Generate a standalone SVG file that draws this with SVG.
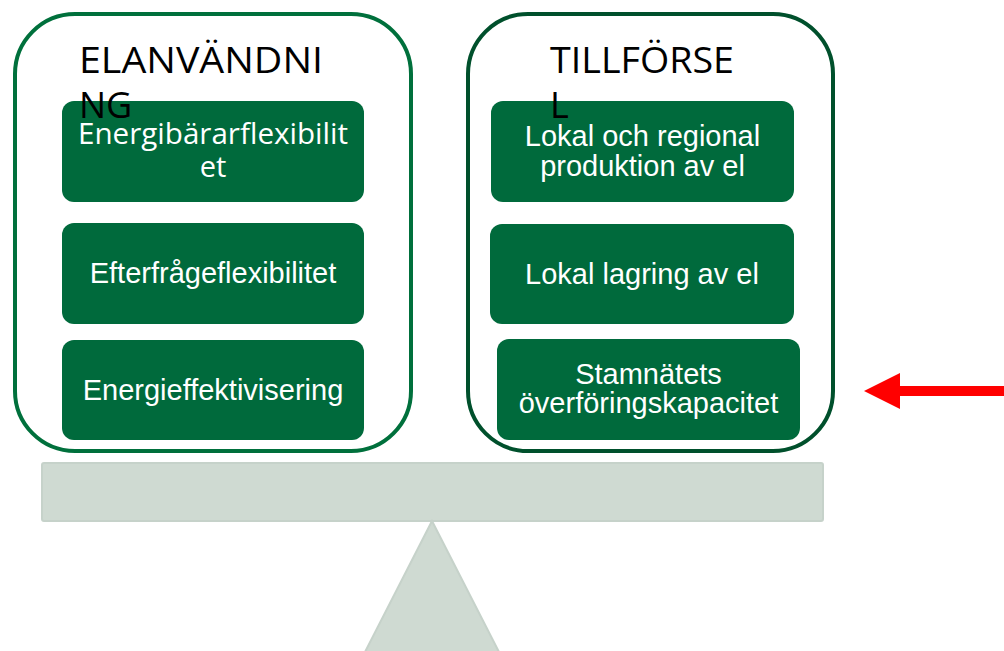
<svg xmlns="http://www.w3.org/2000/svg" width="1004" height="651" viewBox="0 0 1004 651">
<style>
.box{fill:#006A3C;}
.lbl{font-family:"Liberation Sans",Arial,sans-serif;font-size:29px;fill:#FFFFFF;text-anchor:middle;}
.lbl2{font-family:"Open Sans","Noto Sans",sans-serif;font-size:29px;fill:#FFFFFF;text-anchor:middle;}
.title{font-family:"Open Sans","Noto Sans",sans-serif;font-size:36px;fill:#000000;}
.base{fill:#CFDAD2;stroke:#C6D2CA;stroke-width:2;}
</style>
<g id="scale">
<rect class="base" x="42" y="463" width="781" height="58" rx="2"/>
<polygon class="base" points="432,521 499,652 365,652"/>
</g>
<g id="elanvandning">
<rect x="15" y="14" width="396" height="437" rx="60" fill="#FFFFFF" stroke="#00703C" stroke-width="4"/>
</g>
<g id="tillforsel">
<rect x="468" y="14" width="365" height="437" rx="60" fill="#FFFFFF" stroke="#00502C" stroke-width="4"/>
</g>
<g id="energibarar">
<rect class="box" x="62" y="101" width="302" height="101" rx="12"/>
<text class="lbl2" x="213" y="144" textLength="270" lengthAdjust="spacingAndGlyphs">Energibärarflexibilit</text>
<text class="lbl2" x="213" y="177">et</text>
</g>
<g id="efterfrage">
<rect class="box" x="62" y="223" width="302" height="101" rx="12"/>
<text class="lbl" x="213" y="283">Efterfrågeflexibilitet</text>
</g>
<g id="energieffektivisering">
<rect class="box" x="62" y="340" width="302" height="100" rx="12"/>
<text class="lbl" x="213" y="400">Energieffektivisering</text>
</g>
<g id="lokalproduktion">
<rect class="box" x="491" y="101" width="303" height="101" rx="12"/>
<text class="lbl" x="642.5" y="146">Lokal och regional</text>
<text class="lbl" x="642.5" y="176">produktion av el</text>
</g>
<g id="lokallagring">
<rect class="box" x="490" y="224" width="304" height="100" rx="12"/>
<text class="lbl" x="642" y="284">Lokal lagring av el</text>
</g>
<g id="stamnat">
<rect class="box" x="497" y="339" width="303" height="101" rx="12"/>
<text class="lbl" x="648.5" y="384">Stamnätets</text>
<text class="lbl" x="648.5" y="413">överföringskapacitet</text>
</g>
<g id="elanvandning-title">
<text class="title" x="79" y="73" textLength="244" lengthAdjust="spacingAndGlyphs">ELANVÄNDNI</text>
<text class="title" x="79" y="118">NG</text>
</g>
<g id="tillforsel-title">
<text class="title" x="550" y="73" textLength="184" lengthAdjust="spacingAndGlyphs">TILLFÖRSE</text>
<text class="title" x="550" y="118">L</text>
</g>
<g id="connectors">
<polygon points="864,391 900,373 900,386 1004,386 1004,396 900,396 900,409" fill="#FF0000"/>
</g>
</svg>
